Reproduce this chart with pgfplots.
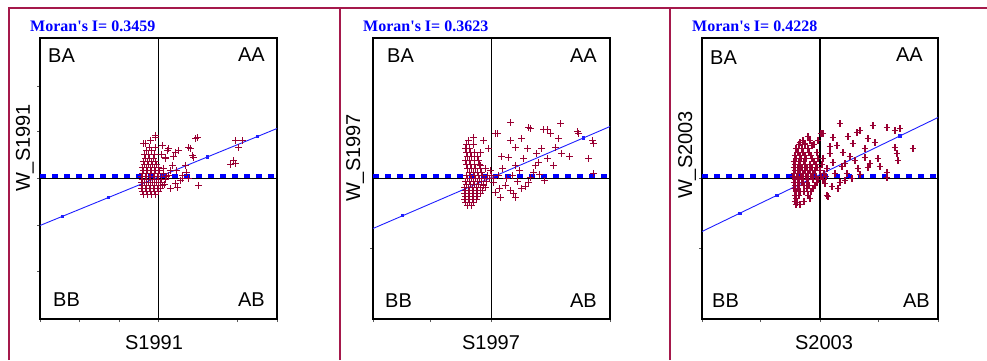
\documentclass[border=0pt]{standalone}
\usepackage{fontspec}
\setmainfont{Liberation Sans}
\newfontfamily\titlefont{Liberation Serif}
\usepackage{pgfplots}
\usepackage{pgfplotstable}
\pgfplotsset{compat=1.18}
\definecolor{ptred}{RGB}{153,0,51}
\definecolor{borderred}{RGB}{165,25,75}

\pgfplotstableread{
x y
-15 -16
-11 -16
-7 -16
-3 -16
-16 -13
-12 -13
-8 -13
-4 -13
0 -13
-17 -10
-13 -10
-9 -10
-5 -10
-1 -10
2 -10
-16 -7
-12 -7
-8 -7
-4 -7
0 -7
4 -7
-17 -4
-14 -4
-10 -4
-6 -4
-2 -4
2 -4
-16 -1
-12 -1
-8 -1
-4 -1
0 -1
3 -1
7 -1
-17 2
-13 2
-9 2
-5 2
-1 2
3 2
8 2
-16 5
-12 5
-8 5
-4 5
0 5
5 5
-15 8
-11 8
-7 8
-3 8
1 8
-16 11
-12 11
-8 11
-4 11
0 11
-14 14
-10 14
-6 14
-2 14
-15 17
-11 17
-7 17
-3 17
-13 20
-9 20
-5 20
-14 24
-10 24
-4 24
-12 28
-7 28
-9 31
-3 31
-15 35
-13 35
-8 38
-3 41
-3 43
4 33
9 28
17 26
32 30
39 41
34 23
7 20
12 8
24 3
30 0
40 -7
19 -9
7 21
10 30
14 13
17 -5
10 3
20 28
24 0
27 13
30 31
35 21
37 40
75 18
77 15
77 38
80 31
72 14
84 38
3 24
5 10
12 -10
18 8
22 -2
15 22
28 6
6 -6
}\tabA

\pgfplotstableread{
x y
-24 -27
-20 -27
-26 -24
-22 -24
-18 -24
-27 -21
-23 -21
-19 -21
-15 -21
-26 -18
-22 -18
-18 -18
-14 -18
-27 -15
-23 -15
-19 -15
-15 -15
-11 -15
-26 -12
-22 -12
-18 -12
-14 -12
-9 -12
-27 -9
-23 -9
-19 -9
-15 -9
-11 -9
-6 -9
-25 -6
-21 -6
-17 -6
-13 -6
-8 -6
-26 -3
-22 -3
-18 -3
-14 -3
-10 -3
-5 -3
-24 0
-20 0
-16 0
-12 0
-7 0
-2 0
2 0
-25 3
-21 3
-17 3
-13 3
-9 3
-4 3
0 3
-22 6
-18 6
-14 6
-10 6
-24 10
-20 10
-16 10
-11 10
-6 10
-25 14
-21 14
-17 14
-12 14
-26 18
-22 18
-17 18
-13 18
-24 22
-20 22
-14 22
-25 26
-21 26
-17 26
-11 26
-26 30
-22 30
-3 30
-25 34
-18 34
-23 38
-8 38
-18 41
4 45
6 45
19 56
19 38
37 51
24 31
36 30
17 21
11 10
24 13
22 -15
14 -7
4 -14
2 -4
-8 -7
-11 13
39 50
52 49
56 49
69 55
67 40
59 45
86 47
87 45
101 38
102 35
97 20
102 5
64 31
56 20
62 13
47 16
44 13
37 -4
39 1
9 -19
19 -12
24 -19
30 -10
28 8
45 25
32 20
50 30
15 0
7 3
26 -3
42 6
8 -10
34 -8
21 3
48 4
-1 8
10 22
30 40
70 25
78 22
53 -2
}\tabB

\pgfplotstableread{
x y
-24 -26
-20 -26
-25 -23
-16 -23
-24 -20
-10 -20
-25 -17
-21 -17
-12 -17
-24 -13
-20 -13
-16 -13
-9 -13
-26 -10
-22 -10
-13 -10
-7 -10
-25 -7
-21 -7
-16 -7
-11 -7
-5 -7
-26 -4
-22 -4
-18 -4
-13 -4
-3 -4
-25 -1
-21 -1
-17 -1
-12 -1
-7 -1
-2 -1
3 -1
-27 2
-23 2
-19 2
-14 2
-9 2
-4 2
1 2
6 2
-26 5
-22 5
-17 5
-12 5
-7 5
4 5
-25 8
-20 8
-15 8
-10 8
-5 8
0 8
-26 11
-22 11
-18 11
-13 11
-8 11
-3 11
-25 14
-20 14
-15 14
-10 14
-4 14
2 14
-26 17
-21 17
-16 17
-6 17
-24 20
-19 20
-14 20
-8 20
-2 20
-25 23
-20 23
-15 23
-9 23
-22 26
-17 26
-11 26
-3 26
-24 30
-18 30
-12 30
-21 34
-15 34
-6 34
-17 38
-10 38
-2 38
-12 42
1 45
7 -17
-10 -20
-23 -24
20 -4
27 5
13 16
7 10
20 55
13 41
3 45
-20 36
-15 35
-8 33
17 33
23 26
37 46
40 48
53 53
67 51
75 48
80 50
48 40
55 36
45 30
75 31
77 25
93 30
78 18
58 20
48 11
38 10
67 6
67 1
45 21
8 -18
10 25
15 5
25 15
30 22
33 35
28 42
5 -5
12 -8
18 -10
22 12
35 18
40 4
25 -2
32 0
50 15
60 12
10 32
3 20
}\tabC

\pgfplotsset{
  moran/.style={
    scale only axis, height=281pt, anchor=south west,
    ymin=-140.5, ymax=140.5,
    axis line style={line width=1.8pt, black},
    xticklabels={}, yticklabels={},
    tick align=outside, major tick length=3pt,
    tick style={gray!70!black, line width=0.8pt},
    xtick pos=bottom, ytick pos=left,
    clip=true,
  },
  pts/.style={only marks, mark=+, color=ptred, mark size=3.3pt, mark options={line width=1.9pt, draw=ptred}},
  zeroline/.style={black, line width=1.6pt},
  dashl/.style={color={rgb,255:red,0;green,0;blue,255}, line width=4pt, dash pattern=on 6pt off 6pt},
  regl/.style={color={rgb,255:red,30;green,30;blue,255}, line width=0.9pt, mark=square*, mark size=1.1pt},
}

\begin{document}
\begin{tikzpicture}
\useasboundingbox (0pt,0pt) rectangle (987pt,360pt);
% panel borders
\draw[borderred, line width=1.2pt] (9pt,0pt) -- (9pt,352pt) -- (987pt,352pt);
\draw[borderred, line width=1.2pt] (340pt,0pt) -- (340pt,352pt);
\draw[borderred, line width=1.2pt] (670pt,0pt) -- (670pt,352pt);

% ---------- panel 1 ----------
\begin{axis}[moran, at={(40pt,41pt)}, width=237pt,
  xmin=-118.5, xmax=118.5,
  xtick={-118.5,-79,-39.5,0,79,118.5}, ytick={-93,-47,0,47,92}]
\addplot[pts] table {\tabA};
\addplot[zeroline] coordinates {(0,-140.5) (0,140.5)};
\addplot[zeroline] coordinates {(-118.5,0) (118.5,0)};
\addplot[dashl] coordinates {(-118.5,2.5) (118.5,2.5)};
\addplot[regl, mark indices={2,3,4,5}] coordinates {(-118.5,-47) (-96,-37.8) (-50,-19.0) (49,21.6) (99,42.0) (118.5,50)};
\end{axis}

% ---------- panel 2 ----------
\begin{axis}[moran, at={(373pt,41pt)}, width=237pt,
  xmin=-118.5, xmax=118.5,
  xtick={-118.5,-61,0,118.5}, ytick={-70}]
\addplot[pts] table {\tabB};
\addplot[zeroline] coordinates {(0,-140.5) (0,140.5)};
\addplot[zeroline] coordinates {(-118.5,0) (118.5,0)};
\addplot[dashl] coordinates {(-118.5,2.5) (118.5,2.5)};
\addplot[regl, mark indices={2,3}] coordinates {(-118.5,-50) (-89,-37.3) (92,40.6) (118.5,52)};
\end{axis}

% ---------- panel 3 ----------
\begin{axis}[moran, at={(702pt,41pt)}, width=236pt,
  xmin=-118, xmax=118,
  xtick={-118,-60,0,58,118}, ytick={-70,0}]
\addplot[pts] table {\tabC};
\addplot[zeroline] coordinates {(0,-140.5) (0,140.5)};
\addplot[zeroline] coordinates {(-118,0) (118,0)};
\addplot[dashl] coordinates {(-118,2.5) (118,2.5)};
\addplot[regl, mark indices={2,3,4}] coordinates {(-118,-53) (-80,-34.6) (-43,-16.8) (80,42.6) (118,61)};
\end{axis}

% titles
\begin{scope}[every node/.style={inner sep=0pt, text=blue, font=\titlefont\bfseries\fontsize{16}{16}\selectfont}]
\node[anchor=west] at (30pt,334pt) {Moran's I= 0.3459};
\node[anchor=west] at (363pt,334pt) {Moran's I= 0.3623};
\node[anchor=west] at (692pt,334pt) {Moran's I= 0.4228};
\end{scope}

% quadrant labels
\begin{scope}[every node/.style={inner sep=0pt, font=\fontsize{20}{20}\selectfont}]
\node[anchor=west] at (48pt,304.5pt) {BA};
\node[anchor=east] at (265pt,305.5pt) {AA};
\node[anchor=west] at (53pt,60pt) {BB};
\node[anchor=east] at (265pt,60pt) {AB};
\node[anchor=west] at (387pt,304.5pt) {BA};
\node[anchor=east] at (597pt,304.5pt) {AA};
\node[anchor=west] at (385pt,59.5pt) {BB};
\node[anchor=east] at (597pt,59.5pt) {AB};
\node[anchor=west] at (710pt,302.5pt) {BA};
\node[anchor=east] at (923pt,305.5pt) {AA};
\node[anchor=west] at (712pt,59.5pt) {BB};
\node[anchor=east] at (930pt,59.5pt) {AB};
\end{scope}

% axis labels
\begin{scope}[every node/.style={inner sep=0pt, font=\fontsize{20}{20}\selectfont}]
\node at (154pt,17pt) {S1991};
\node at (491pt,17pt) {S1997};
\node at (824pt,17pt) {S2003};
\node[rotate=90] at (25pt,212pt) {W\_S1991};
\node[rotate=90] at (355pt,202pt) {W\_S1997};
\node[rotate=90] at (687pt,205pt) {W\_S2003};
\end{scope}
\end{tikzpicture}
\end{document}
